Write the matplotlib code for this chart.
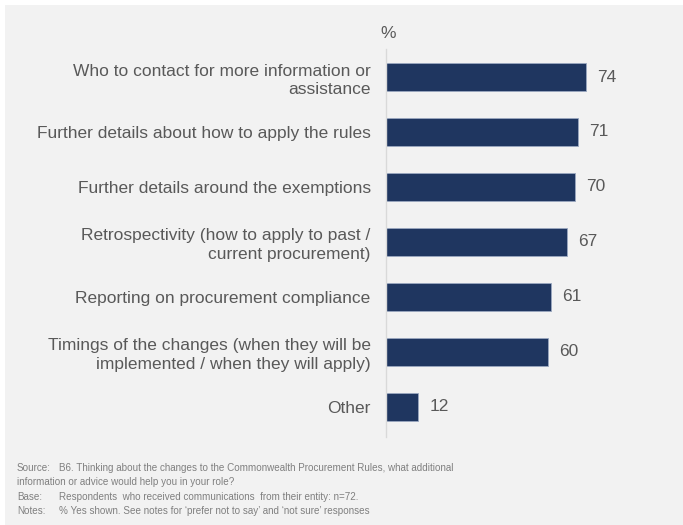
import matplotlib
matplotlib.use("Agg")
import matplotlib.pyplot as plt
from matplotlib.patches import Rectangle

plt.rcParams['font.family'] = ['Liberation Sans', 'DejaVu Sans']

# Survey items and share answering "Yes" (%)
categories = [
    "Who to contact for more information or\nassistance",
    "Further details about how to apply the rules",
    "Further details around the exemptions",
    "Retrospectivity (how to apply to past /\ncurrent procurement)",
    "Reporting on procurement compliance",
    "Timings of the changes (when they will be\nimplemented / when they will apply)",
    "Other",
]
values = [74, 71, 70, 67, 61, 60, 12]

footnote_heads = ["Source:", "Base:", "Notes:"]
footnote_bodies = [
    "B6. Thinking about the changes to the Commonwealth Procurement Rules, what additional",
    "Respondents  who received communications  from their entity: n=72.",
    "% Yes shown. See notes for \u2018prefer not to say\u2019 and \u2018not sure\u2019 responses",
]
footnote_wrap = "information or advice would help you in your role?"

W, H = 683, 525
fig = plt.figure(figsize=(W / 100, H / 100), dpi=100, facecolor="white")

# light grey panel behind everything, leaving a thin white margin top/left
fig.patches.append(Rectangle((5 / W, 0), 1 - 5 / W, 1 - 5 / H,
                             transform=fig.transFigure, facecolor="#f2f2f2",
                             edgecolor="none", zorder=-10))

ax_left, ax_right = 386 / W, 656 / W
ax_top, ax_bottom = 1 - 49 / H, 1 - 437 / H
ax = fig.add_axes([ax_left, ax_bottom, ax_right - ax_left, ax_top - ax_bottom])
ax.set_facecolor("none")
ax.set_zorder(5)

navy = "#1f3660"
text_grey = "#595959"
label_fs = 12.5
y = list(range(len(categories)))
ax.barh(y, values, height=0.51, color=navy, edgecolor="#9aa8c0", linewidth=0.6)

for yi, v in zip(y, values):
    ax.annotate(str(v), xy=(v, yi), xytext=(8, 0), textcoords="offset points",
                va="center", ha="left", fontsize=label_fs, color=text_grey)

ax.set_xlim(0, 100)
ax.set_ylim(6.55, -0.51)
ax.set_yticks(y)
ax.set_yticklabels(categories, fontsize=label_fs, color=text_grey, linespacing=1.32)
ax.tick_params(axis="y", length=0, pad=11)
ax.set_xticks([])
for side in ("top", "right", "bottom"):
    ax.spines[side].set_visible(False)
ax.spines["left"].set_color("#d9d9d9")
ax.spines["left"].set_linewidth(1.0)

fig.text(388 / W, 1 - 33 / H, "%", ha="center", va="center",
         fontsize=label_fs, color=text_grey)

# footnotes
note_grey = "#7f7f7f"
fs = 7.1
rows = [468, 482, 497, 511]
fig.text(17 / W, 1 - rows[0] / H, footnote_heads[0], fontsize=fs, color=note_grey, va="center")
fig.text(59 / W, 1 - rows[0] / H, footnote_bodies[0], fontsize=fs, color=note_grey, va="center")
fig.text(17 / W, 1 - rows[1] / H, footnote_wrap, fontsize=fs, color=note_grey, va="center")
fig.text(17 / W, 1 - rows[2] / H, footnote_heads[1], fontsize=fs, color=note_grey, va="center")
fig.text(59 / W, 1 - rows[2] / H, footnote_bodies[1], fontsize=fs, color=note_grey, va="center")
fig.text(17 / W, 1 - rows[3] / H, footnote_heads[2], fontsize=fs, color=note_grey, va="center")
fig.text(59 / W, 1 - rows[3] / H, footnote_bodies[2], fontsize=fs, color=note_grey, va="center")

fig.savefig("out.png", dpi=100, facecolor="white")
